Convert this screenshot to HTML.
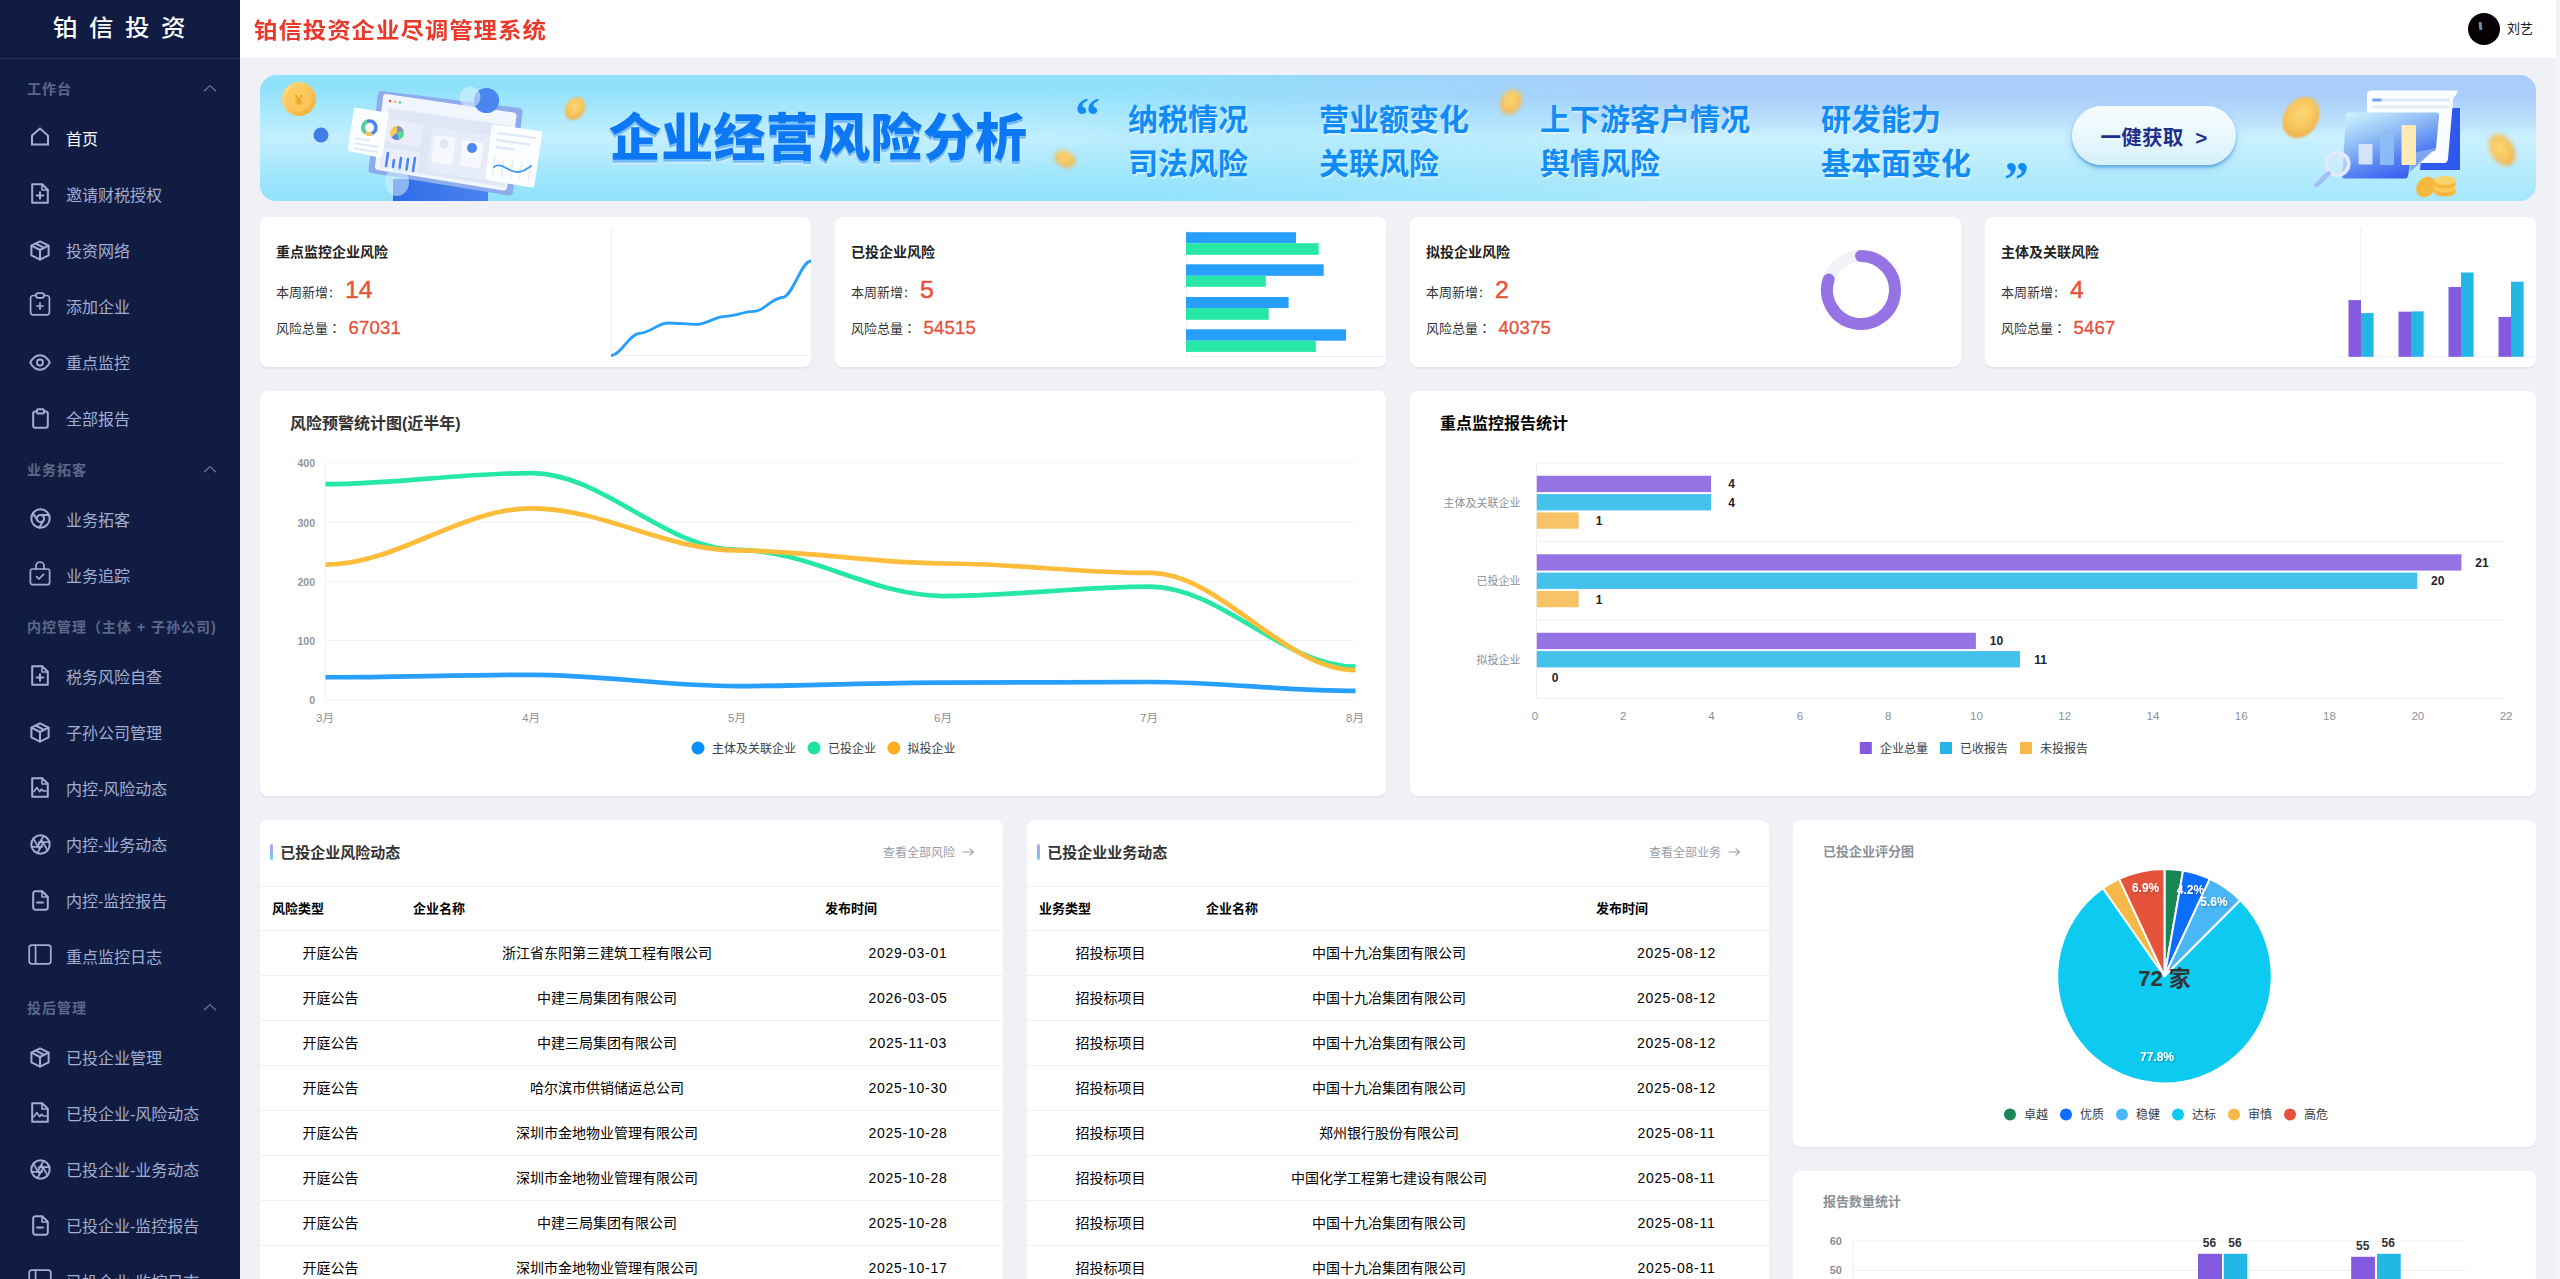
<!DOCTYPE html>
<html lang="zh-CN">
<head>
<meta charset="utf-8">
<title>铂信投资企业尽调管理系统</title>
<style>
*{box-sizing:border-box;margin:0;padding:0}
html,body{width:2560px;height:1279px;overflow:hidden}
body{position:relative;background:#f0f1f7;font-family:"Liberation Sans","Noto Sans CJK SC",sans-serif;-webkit-font-smoothing:antialiased}
.t{position:absolute;white-space:nowrap}
.num{font-family:"Liberation Sans",sans-serif}
.dt{letter-spacing:0.75px}
#sb{position:absolute;left:0;top:0;width:240px;height:1279px;background:#111c43;overflow:hidden}
#tb{position:absolute;left:240px;top:0;width:2316px;height:58px;background:#fff}
#bn{position:absolute;left:260px;top:75px;width:2276px;height:126px;border-radius:16px;overflow:hidden;
 background:
  linear-gradient(90deg,rgba(143,226,251,1) 0%,rgba(143,226,251,.95) 38%,rgba(160,205,251,0) 62%),
  linear-gradient(180deg,#a9cbfb 0%,#abcffb 18%,#bbe1fd 37%,#c9f0ff 48%,#c4effe 60%,#b3ebfd 80%,#a6e8fc 100%);}
#bn:before{content:"";position:absolute;left:0;top:0;width:60%;height:100%;background:linear-gradient(180deg,rgba(200,240,255,0) 10%,rgba(205,241,255,.85) 50%,rgba(180,236,253,.3) 85%,rgba(166,232,252,0) 100%);-webkit-mask-image:linear-gradient(90deg,#000 0%,#000 55%,transparent 100%)}
.card{background:#fff;border-radius:8px;box-shadow:0 2px 0 rgba(10,10,10,.04)}
svg{overflow:visible}
</style>
</head>
<body>
<div id="tb"></div>
<div class="t" style="left:254px;top:14px;font-size:23.5px;line-height:34px;color:#e8392b;font-weight:700;letter-spacing:0.9px;transform:scaleY(.92);">铂信投资企业尽调管理系统</div>
<div style="position:absolute;left:2468px;top:13px;width:32px;height:32px;border-radius:50%;background:#050004"></div>
<div style="position:absolute;left:2479px;top:22px;width:3px;height:8px;border-radius:1px;background:#7386b8;transform:rotate(-6deg)"></div>
<div class="t" style="left:2507px;top:19px;font-size:13px;line-height:20px;color:#222;">刘艺</div>
<div id="bn">
<svg width="2276" height="126" viewBox="0 0 2276 126" style="position:absolute;left:0;top:0">
<defs>
<linearGradient id="gold" x1="0" y1="0" x2="1" y2="1"><stop offset="0" stop-color="#ffe08a"/><stop offset="1" stop-color="#f6a92e"/></linearGradient>
<linearGradient id="glass" x1="0.15" y1="0" x2="0.7" y2="1"><stop offset="0" stop-color="#cbeffd"/><stop offset="0.35" stop-color="#93bff7"/><stop offset="0.7" stop-color="#5682f2"/><stop offset="1" stop-color="#3359f1"/></linearGradient>
<linearGradient id="stand" x1="0" y1="0" x2="1" y2="0"><stop offset="0" stop-color="#2f6be6"/><stop offset="1" stop-color="#4a84ef"/></linearGradient>
<radialGradient id="coin" cx="45%" cy="42%" r="60%"><stop offset="0" stop-color="#fcd877"/><stop offset="0.6" stop-color="#f8c65d"/><stop offset="1" stop-color="#f0ae4c"/></radialGradient>
<filter id="bl1" x="-30%" y="-30%" width="160%" height="160%"><feGaussianBlur stdDeviation="1.2"/></filter>
<filter id="bl2" x="-30%" y="-30%" width="160%" height="160%"><feGaussianBlur stdDeviation="2"/></filter>
</defs>
<!-- left illustration -->
<circle cx="39" cy="24" r="17" fill="url(#gold)"/><circle cx="39" cy="24" r="12.5" fill="#fbc95c" opacity=".8"/>
<text x="39" y="30" font-size="15" font-weight="700" fill="#f2a324" text-anchor="middle" font-family="Liberation Sans, sans-serif">¥</text>
<circle cx="61" cy="60" r="7.5" fill="#3f7ce6"/>
<rect x="133" y="104" width="95" height="22" fill="url(#stand)"/>
<path d="M122 16 L260 33 Q263 34 262.5 37 L253 118 Q252 121 249 120.5 L111 98 Q108 97 108.5 94 L118 19 Q119 15.5 122 16 Z" fill="#8dacee"/>
<path d="M126 19 L254 37.5 Q257 38.5 256.5 41 L247 113 Q246 116 243 115.5 L118 95 Q114.5 94 115 91 L123 22 Q123.5 18.5 126 19 Z" fill="#f1f5fc"/>
<path d="M129 33 L252 51 L245 112 L120 92 Z" fill="#dfe7f6"/>
<path d="M129 44 L164 49.5 L160 72 L125 66.5 Z" fill="#e9eef9"/><path d="M124 72 L160 78 L157 98 L121 91.5 Z" fill="#e9eef9"/>
<path d="M172 52 L248 63 L242 108 L166 96 Z" fill="#e6ecf8"/>
<path d="M175 60 L196 63 L192 90 L171 86.5 Z" fill="#f6f8fd"/><path d="M203 65 L224 68 L220 94 L199 90.5 Z" fill="#f6f8fd"/>
<circle cx="184" cy="69" r="4.5" fill="#e1e7f5"/><circle cx="212" cy="73" r="5" fill="#4c86ee"/>
<circle cx="137" cy="58" r="7" fill="#f5c75f"/><path d="M137 58 L137 51 A7 7 0 0 1 143.6 55.8 Z" fill="#8d93b8"/><path d="M137 58 L143.6 55.8 A7 7 0 0 1 139 64.7 Z" fill="#57d99c"/><path d="M137 58 L139 64.7 A7 7 0 0 1 131.5 62.3 Z" fill="#4c86ee"/>
<g stroke="#4d86ef" stroke-width="2.6" stroke-linecap="round"><path d="M128 78 L126 91"/><path d="M134 85 L133 92"/><path d="M141 83 L139.5 93.5"/><path d="M148 84 L146.5 94.5"/><path d="M155 83 L153 96"/></g>
<circle cx="130" cy="26" r="1.3" fill="#ef5350"/><circle cx="135" cy="26.7" r="1.3" fill="#f6c244"/><circle cx="140" cy="27.4" r="1.3" fill="#5fd79a"/>
<path d="M96 33 L127 37.5 Q129 38 128.7 40 L122.5 81 Q122 83 120 82.7 L89.5 76 Q87.5 75.5 88 73.5 L93.7 35 Q94 32.7 96 33 Z" fill="#fdfeff"/>
<circle cx="109.5" cy="52.5" r="6.5" fill="none" stroke="#4c86ee" stroke-width="3.6"/><path d="M104.9 57.1 A6.5 6.5 0 0 1 107.3 46.4" fill="none" stroke="#4fd39a" stroke-width="3.6"/><path d="M112 58.5 A6.5 6.5 0 0 1 105.2 57.4" fill="none" stroke="#f5c75f" stroke-width="3.6"/>
<g stroke="#e2e8f5" stroke-width="2" stroke-linecap="round"><path d="M96 63.5 L109 65.5"/><path d="M95 68.5 L118 72"/><path d="M94.5 73.5 L117 77"/></g>
<path d="M234 49.5 L280 56 Q282.5 56.5 282.2 59 L274.5 110 Q274 113 271 112.5 L227.5 105 Q225 104.5 225.4 102 L231.5 52 Q232 49 234 49.5 Z" fill="#fbfdff"/>
<g stroke="#e1e8f6" stroke-width="2.4" stroke-linecap="round"><path d="M238 58 L275 63"/><path d="M237 65 L269 69.5"/><path d="M236.5 72 L254 74.5"/></g>
<g stroke="#e3e9f6" stroke-width="1.2"><path d="M235 82 L232.5 100"/><path d="M244 83 L241.5 102"/><path d="M253 84.5 L250.5 103.5"/><path d="M262 86 L259.5 105"/><path d="M271 87.5 L268.5 106.5"/></g>
<path d="M234 92 C242 86 250 99 259 97 C265 96 268 93 271 91" fill="none" stroke="#3e9bee" stroke-width="1.8" stroke-linecap="round"/>
<circle cx="226.5" cy="25.5" r="12.6" fill="#4a86ef"/>
<circle cx="210" cy="22" r="10.5" fill="#dff2fd" opacity=".55"/>
<ellipse cx="137" cy="107" rx="12" ry="14" fill="#d8eefc" opacity=".55"/>
<ellipse cx="315" cy="33.5" rx="9.5" ry="12" fill="url(#coin)" transform="rotate(32 315 33.5)" filter="url(#bl1)"/>
<ellipse cx="805" cy="84" rx="11" ry="8" fill="url(#coin)" transform="rotate(25 805 84)" filter="url(#bl2)"/>
<ellipse cx="1251" cy="27" rx="10" ry="13" fill="url(#coin)" transform="rotate(30 1251 27)" filter="url(#bl2)"/>
<!-- right illustration -->
<ellipse cx="2041" cy="42.5" rx="17" ry="22" fill="url(#coin)" transform="rotate(33 2041 42.5)" filter="url(#bl1)"/>
<ellipse cx="2242" cy="75" rx="11.5" ry="17" fill="url(#coin)" transform="rotate(-32 2242 75)" filter="url(#bl2)"/>
<path d="M2166 33 L2200 33 L2200 95 L2160 95 Z" fill="#2e58ef"/>
<path d="M2111 15.5 L2198 15.5 L2196 20 Q2193 22 2193 26 L2188 84 Q2187.5 88 2184 88 L2107 88 L2107 20 Q2107 15.5 2111 15.5 Z" fill="#fafcff"/>
<rect x="2112" y="23.5" width="78" height="3" rx="1.5" fill="#dfe8f7"/><rect x="2112" y="23.5" width="10" height="3" rx="1.5" fill="#7ea6ee"/><rect x="2112" y="30.5" width="77" height="3" rx="1.5" fill="#e6edf9"/>
<path d="M2088 37.5 L2176 37.5 Q2179.5 37.5 2179 41 L2176 73 Q2175.5 76 2172 76.5 L2152 78 L2148 101 Q2147.5 103.5 2145 103.5 L2084 103.5 Q2082 103.5 2082.3 101 L2086 40 Q2086.2 37.5 2088 37.5 Z" fill="url(#glass)"/>
<path d="M2152 78 L2176 73 L2150 97 Z" fill="#7fa6f3"/>
<rect x="2098.5" y="69" width="14" height="20.5" rx="1" fill="#dbe9fb" opacity=".92"/>
<rect x="2120" y="58" width="14" height="32" rx="1" fill="#8ec0f6" opacity=".9"/>
<rect x="2141.5" y="50" width="14.5" height="40" rx="1" fill="#fdeab5"/>
<circle cx="2077.5" cy="88.8" r="11.3" fill="#d4ecfd" fill-opacity=".6" stroke="#e4e9fb" stroke-width="3.6"/>
<path d="M2068.5 98.5 L2056.5 110" stroke="#a3c0f4" stroke-width="4.6" stroke-linecap="round"/>
<g fill="#f6b83d"><ellipse cx="2166" cy="112" rx="9" ry="11" transform="rotate(40 2166 112)"/><ellipse cx="2185" cy="117" rx="11" ry="4.5"/><ellipse cx="2185" cy="113" rx="11" ry="4.5" fill="#f9c95a"/><ellipse cx="2185" cy="109" rx="11" ry="4.5"/><ellipse cx="2185" cy="105.5" rx="11" ry="4.5" fill="#fbd36b"/></g>
</svg>
<div class="t" style="left:349px;top:27.8px;font-size:52px;line-height:70px;color:#0d78f4;font-weight:900;transform:scaleY(.985);letter-spacing:0.3px;text-shadow:0 0 1.5px rgba(255,255,255,.85),0 2px 0 #63b7f7,0 3.5px 0 #8fcff9,0 5px 1px rgba(200,236,254,.95);">企业经营风险分析</div>
<div class="t" style="left:815px;top:15px;font-size:50px;line-height:50px;color:#128cf4;font-weight:900;font-family:'Liberation Serif',serif;">“</div>
<div class="t" style="left:1744px;top:78.5px;font-size:50px;line-height:50px;color:#128cf4;font-weight:900;font-family:'Liberation Serif',serif;">”</div>
<div class="t" style="left:868px;top:24.7px;font-size:30px;line-height:40px;color:#128cf4;font-weight:700;text-shadow:1.5px 2px 1px rgba(255,255,255,.45);">纳税情况</div>
<div class="t" style="left:868px;top:68.7px;font-size:30px;line-height:40px;color:#128cf4;font-weight:700;text-shadow:1.5px 2px 1px rgba(255,255,255,.45);">司法风险</div>
<div class="t" style="left:1059px;top:24.7px;font-size:30px;line-height:40px;color:#128cf4;font-weight:700;text-shadow:1.5px 2px 1px rgba(255,255,255,.45);">营业额变化</div>
<div class="t" style="left:1059px;top:68.7px;font-size:30px;line-height:40px;color:#128cf4;font-weight:700;text-shadow:1.5px 2px 1px rgba(255,255,255,.45);">关联风险</div>
<div class="t" style="left:1280px;top:24.7px;font-size:30px;line-height:40px;color:#128cf4;font-weight:700;text-shadow:1.5px 2px 1px rgba(255,255,255,.45);">上下游客户情况</div>
<div class="t" style="left:1280px;top:68.7px;font-size:30px;line-height:40px;color:#128cf4;font-weight:700;text-shadow:1.5px 2px 1px rgba(255,255,255,.45);">舆情风险</div>
<div class="t" style="left:1561px;top:24.7px;font-size:30px;line-height:40px;color:#128cf4;font-weight:700;text-shadow:1.5px 2px 1px rgba(255,255,255,.45);">研发能力</div>
<div class="t" style="left:1561px;top:68.7px;font-size:30px;line-height:40px;color:#128cf4;font-weight:700;text-shadow:1.5px 2px 1px rgba(255,255,255,.45);">基本面变化</div>
<div style="position:absolute;left:1812px;top:31px;width:164px;height:59px;border-radius:30px;background:linear-gradient(180deg,#f6fdff 0%,#e9f8fe 50%,#d6f0fc 100%);box-shadow:0 2.5px 3px rgba(70,150,215,.7),0 4px 8px rgba(80,150,220,.25)"></div>
<div class="t" style="left:1894px;top:48.5px;font-size:20.5px;line-height:28px;color:#1e2f8c;font-weight:700;transform:translateX(-50%);letter-spacing:0.2px;">一健获取&nbsp; &gt;</div>
</div>
<div class="card" style="position:absolute;left:260px;top:217px;width:551px;height:150px;"></div>
<div class="t" style="left:276px;top:242px;font-size:14px;line-height:20px;color:#222;font-weight:700;">重点监控企业风险</div>
<div class="t" style="left:276px;top:283px;font-size:13px;line-height:20px;color:#333;">本周新增<span style="margin-left:1.3px;-webkit-text-stroke:0.3px #333">:</span></div>
<div class="t num" style="left:345px;top:274.5px;font-size:24.8px;line-height:30px;color:#e6533c;font-weight:500;-webkit-text-stroke:0.5px #e6533c;">14</div>
<div class="t" style="left:276px;top:319px;font-size:13px;line-height:20px;color:#333;">风险总量<span lang="ja" style="line-height:1px;font-family:'Noto Sans CJK JP',sans-serif">：</span></div>
<div class="t num" style="left:348.5px;top:315.5px;font-size:18.5px;line-height:24px;color:#e6533c;font-weight:500;letter-spacing:0.2px;-webkit-text-stroke:0.35px #e6533c;">67031</div>
<div class="card" style="position:absolute;left:835px;top:217px;width:551px;height:150px;"></div>
<div class="t" style="left:851px;top:242px;font-size:14px;line-height:20px;color:#222;font-weight:700;">已投企业风险</div>
<div class="t" style="left:851px;top:283px;font-size:13px;line-height:20px;color:#333;">本周新增<span style="margin-left:1.3px;-webkit-text-stroke:0.3px #333">:</span></div>
<div class="t num" style="left:920px;top:274.5px;font-size:24.8px;line-height:30px;color:#e6533c;font-weight:500;-webkit-text-stroke:0.5px #e6533c;">5</div>
<div class="t" style="left:851px;top:319px;font-size:13px;line-height:20px;color:#333;">风险总量<span lang="ja" style="line-height:1px;font-family:'Noto Sans CJK JP',sans-serif">：</span></div>
<div class="t num" style="left:923.5px;top:315.5px;font-size:18.5px;line-height:24px;color:#e6533c;font-weight:500;letter-spacing:0.2px;-webkit-text-stroke:0.35px #e6533c;">54515</div>
<div class="card" style="position:absolute;left:1410px;top:217px;width:551px;height:150px;"></div>
<div class="t" style="left:1426px;top:242px;font-size:14px;line-height:20px;color:#222;font-weight:700;">拟投企业风险</div>
<div class="t" style="left:1426px;top:283px;font-size:13px;line-height:20px;color:#333;">本周新增<span style="margin-left:1.3px;-webkit-text-stroke:0.3px #333">:</span></div>
<div class="t num" style="left:1495px;top:274.5px;font-size:24.8px;line-height:30px;color:#e6533c;font-weight:500;-webkit-text-stroke:0.5px #e6533c;">2</div>
<div class="t" style="left:1426px;top:319px;font-size:13px;line-height:20px;color:#333;">风险总量<span lang="ja" style="line-height:1px;font-family:'Noto Sans CJK JP',sans-serif">：</span></div>
<div class="t num" style="left:1498.5px;top:315.5px;font-size:18.5px;line-height:24px;color:#e6533c;font-weight:500;letter-spacing:0.2px;-webkit-text-stroke:0.35px #e6533c;">40375</div>
<div class="card" style="position:absolute;left:1985px;top:217px;width:551px;height:150px;"></div>
<div class="t" style="left:2001px;top:242px;font-size:14px;line-height:20px;color:#222;font-weight:700;">主体及关联风险</div>
<div class="t" style="left:2001px;top:283px;font-size:13px;line-height:20px;color:#333;">本周新增<span style="margin-left:1.3px;-webkit-text-stroke:0.3px #333">:</span></div>
<div class="t num" style="left:2070px;top:274.5px;font-size:24.8px;line-height:30px;color:#e6533c;font-weight:500;-webkit-text-stroke:0.5px #e6533c;">4</div>
<div class="t" style="left:2001px;top:319px;font-size:13px;line-height:20px;color:#333;">风险总量<span lang="ja" style="line-height:1px;font-family:'Noto Sans CJK JP',sans-serif">：</span></div>
<div class="t num" style="left:2073.5px;top:315.5px;font-size:18.5px;line-height:24px;color:#e6533c;font-weight:500;letter-spacing:0.2px;-webkit-text-stroke:0.35px #e6533c;">5467</div>
<svg style="position:absolute;left:0;top:0" width="2560" height="400" viewBox="0 0 2560 400"><path d="M611.5 229 V355.5 H811" fill="none" stroke="#f0f1f6" stroke-width="1"/><clipPath id="c1"><rect x="260" y="217" width="551" height="150" rx="8"/></clipPath><path d="M611 355.5 C621 355.5 629.57 333.3 639.57 333.3 C649.57 333.3 658.14 323 668.14 323 C678.14 323 686.71 324.4 696.71 324.4 C706.71 324.4 715.29 316.3 725.29 316.3 C735.29 316.3 743.86 311.4 753.86 311.4 C763.86 311.4 772.43 297.5 782.43 297.5 C792.43 297.5 801 261 811 261" fill="none" stroke="#26a0fc" stroke-width="2.8" stroke-linecap="butt" clip-path="url(#c1)"/><path d="M1186.5 228 V356.5 H1386" fill="none" stroke="#f0f1f6" stroke-width="1"/><rect x="1186" y="232.2" width="110" height="11" fill="#26a0fc"/><rect x="1186" y="243.2" width="132.7" height="11.6" fill="#26e7a6"/><rect x="1186" y="264.3" width="137.7" height="11.5" fill="#26a0fc"/><rect x="1186" y="275.8" width="79.8" height="11" fill="#26e7a6"/><rect x="1186" y="297" width="102.6" height="11" fill="#26a0fc"/><rect x="1186" y="308" width="82.7" height="11.8" fill="#26e7a6"/><rect x="1186" y="329.3" width="160" height="11.4" fill="#26a0fc"/><rect x="1186" y="340.7" width="129.8" height="11.2" fill="#26e7a6"/><circle cx="1861" cy="290" r="34" fill="none" stroke="#f2f3f7" stroke-width="12"/><path d="M1861 256 A34 34 0 1 1 1828.66 279.49" fill="none" stroke="#9673e4" stroke-width="12" stroke-linecap="round"/><path d="M2360.7 228 V356.5" fill="none" stroke="#f0f1f6" stroke-width="1"/><path d="M2336 356.8 H2536" fill="none" stroke="#f0f1f6" stroke-width="1"/><rect x="2348.5" y="300.1" width="12.5" height="56.7" fill="#845adf"/><rect x="2361" y="313.1" width="12.6" height="43.7" fill="#23b7e5"/><rect x="2398.5" y="311.7" width="12.5" height="45.1" fill="#845adf"/><rect x="2411" y="311.4" width="12.6" height="45.4" fill="#23b7e5"/><rect x="2448.5" y="287" width="12.5" height="69.8" fill="#845adf"/><rect x="2461" y="272.5" width="12.6" height="84.3" fill="#23b7e5"/><rect x="2498.5" y="316.9" width="12.5" height="39.9" fill="#845adf"/><rect x="2511" y="281.7" width="12.6" height="75.1" fill="#23b7e5"/></svg>
<div class="card" style="position:absolute;left:260px;top:391px;width:1126px;height:405px;"></div>
<div class="t" style="left:290px;top:412px;font-size:16px;line-height:24px;color:#333;font-weight:700;">风险预警统计图(近半年)</div>
<svg style="position:absolute;left:0;top:0" width="1400" height="800" viewBox="0 0 1400 800"><path d="M325.5 699.75 H1355.5" stroke="#f2f3f5" stroke-width="1.2"/><path d="M325.5 640.5 H1355.5" stroke="#f2f3f5" stroke-width="1.2"/><path d="M325.5 581.25 H1355.5" stroke="#f2f3f5" stroke-width="1.2"/><path d="M325.5 522 H1355.5" stroke="#f2f3f5" stroke-width="1.2"/><path d="M325.5 462.75 H1355.5" stroke="#f2f3f5" stroke-width="1.2"/><path d="M325.5 462.75 V699.75" stroke="#f0f1f5" stroke-width="1"/><clipPath id="lc"><rect x="324.5" y="452.75" width="1032" height="257"/></clipPath><path d="M325.5 677.24 C397.6 677.24 459.4 674.87 531.5 674.87 C603.6 674.87 665.4 686.12 737.5 686.12 C809.6 686.12 871.4 682.57 943.5 682.57 C1015.6 682.57 1077.4 681.98 1149.5 681.98 C1221.6 681.98 1283.4 690.86 1355.5 690.86" fill="none" stroke="#26a0fc" stroke-width="4.7" stroke-linecap="butt" clip-path="url(#lc)"/><path d="M325.5 484.08 C397.6 484.08 459.4 473.12 531.5 473.12 C603.6 473.12 665.4 549.85 737.5 549.85 C809.6 549.85 871.4 596.06 943.5 596.06 C1015.6 596.06 1077.4 586.58 1149.5 586.58 C1221.6 586.58 1283.4 666.57 1355.5 666.57" fill="none" stroke="#26e7a6" stroke-width="4.7" stroke-linecap="butt" clip-path="url(#lc)"/><path d="M325.5 564.66 C397.6 564.66 459.4 508.37 531.5 508.37 C603.6 508.37 665.4 550.44 737.5 550.44 C809.6 550.44 871.4 563.48 943.5 563.48 C1015.6 563.48 1077.4 572.96 1149.5 572.96 C1221.6 572.96 1283.4 670.12 1355.5 670.12" fill="none" stroke="#febc3b" stroke-width="4.7" stroke-linecap="butt" clip-path="url(#lc)"/><circle cx="698" cy="748" r="6.5" fill="#078ffa"/><circle cx="814" cy="748" r="6.5" fill="#1fe3a0"/><circle cx="893.8" cy="748" r="6.5" fill="#feb01f"/></svg>
<div class="t" style="left:315px;top:693.25px;font-size:10.5px;line-height:14px;color:#9196a0;font-weight:700;transform:translateX(-100%);">0</div>
<div class="t" style="left:315px;top:634px;font-size:10.5px;line-height:14px;color:#9196a0;font-weight:700;transform:translateX(-100%);">100</div>
<div class="t" style="left:315px;top:574.75px;font-size:10.5px;line-height:14px;color:#9196a0;font-weight:700;transform:translateX(-100%);">200</div>
<div class="t" style="left:315px;top:515.5px;font-size:10.5px;line-height:14px;color:#9196a0;font-weight:700;transform:translateX(-100%);">300</div>
<div class="t" style="left:315px;top:456.25px;font-size:10.5px;line-height:14px;color:#9196a0;font-weight:700;transform:translateX(-100%);">400</div>
<div class="t" style="left:325px;top:710.3px;font-size:11.5px;line-height:16px;color:#8c9097;transform:translateX(-50%);">3月</div>
<div class="t" style="left:531px;top:710.3px;font-size:11.5px;line-height:16px;color:#8c9097;transform:translateX(-50%);">4月</div>
<div class="t" style="left:737px;top:710.3px;font-size:11.5px;line-height:16px;color:#8c9097;transform:translateX(-50%);">5月</div>
<div class="t" style="left:943px;top:710.3px;font-size:11.5px;line-height:16px;color:#8c9097;transform:translateX(-50%);">6月</div>
<div class="t" style="left:1149px;top:710.3px;font-size:11.5px;line-height:16px;color:#8c9097;transform:translateX(-50%);">7月</div>
<div class="t" style="left:1355px;top:710.3px;font-size:11.5px;line-height:16px;color:#8c9097;transform:translateX(-50%);">8月</div>
<div class="t" style="left:712px;top:740.5px;font-size:12px;line-height:16px;color:#373d3f;">主体及关联企业</div>
<div class="t" style="left:828px;top:740.5px;font-size:12px;line-height:16px;color:#373d3f;">已投企业</div>
<div class="t" style="left:907.5px;top:740.5px;font-size:12px;line-height:16px;color:#373d3f;">拟投企业</div>
<div class="card" style="position:absolute;left:1410px;top:391px;width:1126px;height:405px;"></div>
<div class="t" style="left:1440px;top:412px;font-size:16px;line-height:24px;color:#000;font-weight:700;">重点监控报告统计</div>
<svg style="position:absolute;left:0;top:0" width="2560" height="800" viewBox="0 0 2560 800"><path d="M1536 463 H2506" stroke="#f1f2f5" stroke-width="1.2"/><path d="M1536 541.5 H2506" stroke="#f1f2f5" stroke-width="1.2"/><path d="M1536 620 H2506" stroke="#f1f2f5" stroke-width="1.2"/><path d="M1536 698.5 H2506" stroke="#f1f2f5" stroke-width="1.2"/><path d="M1536.5 463 V698.5" stroke="#eceef3" stroke-width="1"/><rect x="1536.8" y="475.77" width="174.26" height="16.32" fill="#9673e4"/><rect x="1536.8" y="494.09" width="174.26" height="16.32" fill="#44c2e9"/><rect x="1536.8" y="512.41" width="41.84" height="16.32" fill="#f7c364"/><rect x="1536.8" y="554.27" width="924.64" height="16.32" fill="#9673e4"/><rect x="1536.8" y="572.59" width="880.5" height="16.32" fill="#44c2e9"/><rect x="1536.8" y="590.91" width="41.84" height="16.32" fill="#f7c364"/><rect x="1536.8" y="632.77" width="439.1" height="16.32" fill="#9673e4"/><rect x="1536.8" y="651.09" width="483.24" height="16.32" fill="#44c2e9"/><rect x="1859.8" y="742" width="12" height="12" fill="#845adf"/><rect x="1940" y="742" width="12" height="12" fill="#23b7e5"/><rect x="2020" y="742" width="12" height="12" fill="#f5b849"/></svg>
<div class="t" style="left:1731.56px;top:476.43px;font-size:12px;line-height:16px;color:#1f2130;font-weight:700;transform:translateX(-50%);">4</div>
<div class="t" style="left:1731.56px;top:494.75px;font-size:12px;line-height:16px;color:#1f2130;font-weight:700;transform:translateX(-50%);">4</div>
<div class="t" style="left:1599.14px;top:513.07px;font-size:12px;line-height:16px;color:#1f2130;font-weight:700;transform:translateX(-50%);">1</div>
<div class="t" style="left:2481.94px;top:554.93px;font-size:12px;line-height:16px;color:#1f2130;font-weight:700;transform:translateX(-50%);">21</div>
<div class="t" style="left:2437.8px;top:573.25px;font-size:12px;line-height:16px;color:#1f2130;font-weight:700;transform:translateX(-50%);">20</div>
<div class="t" style="left:1599.14px;top:591.57px;font-size:12px;line-height:16px;color:#1f2130;font-weight:700;transform:translateX(-50%);">1</div>
<div class="t" style="left:1996.4px;top:633.43px;font-size:12px;line-height:16px;color:#1f2130;font-weight:700;transform:translateX(-50%);">10</div>
<div class="t" style="left:2040.54px;top:651.75px;font-size:12px;line-height:16px;color:#1f2130;font-weight:700;transform:translateX(-50%);">11</div>
<div class="t" style="left:1555px;top:670.07px;font-size:12px;line-height:16px;color:#1f2130;font-weight:700;transform:translateX(-50%);">0</div>
<div class="t" style="left:1520.5px;top:494.75px;font-size:11px;line-height:16px;color:#8c9097;transform:translateX(-100%);">主体及关联企业</div>
<div class="t" style="left:1520.5px;top:573.25px;font-size:11px;line-height:16px;color:#8c9097;transform:translateX(-100%);">已投企业</div>
<div class="t" style="left:1520.5px;top:651.75px;font-size:11px;line-height:16px;color:#8c9097;transform:translateX(-100%);">拟投企业</div>
<div class="t" style="left:1535px;top:708.3px;font-size:11.5px;line-height:16px;color:#8c9097;transform:translateX(-50%);">0</div>
<div class="t" style="left:1623.28px;top:708.3px;font-size:11.5px;line-height:16px;color:#8c9097;transform:translateX(-50%);">2</div>
<div class="t" style="left:1711.56px;top:708.3px;font-size:11.5px;line-height:16px;color:#8c9097;transform:translateX(-50%);">4</div>
<div class="t" style="left:1799.8400000000001px;top:708.3px;font-size:11.5px;line-height:16px;color:#8c9097;transform:translateX(-50%);">6</div>
<div class="t" style="left:1888.12px;top:708.3px;font-size:11.5px;line-height:16px;color:#8c9097;transform:translateX(-50%);">8</div>
<div class="t" style="left:1976.4px;top:708.3px;font-size:11.5px;line-height:16px;color:#8c9097;transform:translateX(-50%);">10</div>
<div class="t" style="left:2064.6800000000003px;top:708.3px;font-size:11.5px;line-height:16px;color:#8c9097;transform:translateX(-50%);">12</div>
<div class="t" style="left:2152.96px;top:708.3px;font-size:11.5px;line-height:16px;color:#8c9097;transform:translateX(-50%);">14</div>
<div class="t" style="left:2241.24px;top:708.3px;font-size:11.5px;line-height:16px;color:#8c9097;transform:translateX(-50%);">16</div>
<div class="t" style="left:2329.52px;top:708.3px;font-size:11.5px;line-height:16px;color:#8c9097;transform:translateX(-50%);">18</div>
<div class="t" style="left:2417.8px;top:708.3px;font-size:11.5px;line-height:16px;color:#8c9097;transform:translateX(-50%);">20</div>
<div class="t" style="left:2506.08px;top:708.3px;font-size:11.5px;line-height:16px;color:#8c9097;transform:translateX(-50%);">22</div>
<div class="t" style="left:1880px;top:740.5px;font-size:12px;line-height:16px;color:#373d3f;">企业总量</div>
<div class="t" style="left:1960px;top:740.5px;font-size:12px;line-height:16px;color:#373d3f;">已收报告</div>
<div class="t" style="left:2040px;top:740.5px;font-size:12px;line-height:16px;color:#373d3f;">未投报告</div>
<div class="card" style="position:absolute;left:260px;top:820px;width:743px;height:480px;"></div>
<div style="position:absolute;left:270px;top:844px;width:3px;height:16px;border-radius:2px;background:linear-gradient(180deg,#c79ae8 0%,#8fb4f5 55%,#74d6f5 100%)"></div>
<div class="t" style="left:280.3px;top:841.5px;font-size:15px;line-height:22px;color:#333;font-weight:700;">已投企业风险动态</div>
<div class="t" style="left:955px;top:843.5px;font-size:12px;line-height:18px;color:#9a9ea6;transform:translateX(-100%);">查看全部风险</div>
<svg style="position:absolute;left:962px;top:847px" width="13" height="10" viewBox="0 0 13 10" fill="none" stroke="#9a9ea6" stroke-width="1.1" stroke-linecap="round" stroke-linejoin="round"><path d="M1 5 H11.5 M8 1.8 L11.5 5 L8 8.2"/></svg>
<div style="position:absolute;left:260px;top:886px;width:743px;height:1px;background:#f1f2f4"></div>
<div style="position:absolute;left:260px;top:930px;width:743px;height:1px;background:#f1f2f4"></div>
<div style="position:absolute;left:260px;top:975px;width:743px;height:1px;background:#f1f2f4"></div>
<div style="position:absolute;left:260px;top:1020px;width:743px;height:1px;background:#f1f2f4"></div>
<div style="position:absolute;left:260px;top:1065px;width:743px;height:1px;background:#f1f2f4"></div>
<div style="position:absolute;left:260px;top:1110px;width:743px;height:1px;background:#f1f2f4"></div>
<div style="position:absolute;left:260px;top:1155px;width:743px;height:1px;background:#f1f2f4"></div>
<div style="position:absolute;left:260px;top:1200px;width:743px;height:1px;background:#f1f2f4"></div>
<div style="position:absolute;left:260px;top:1245px;width:743px;height:1px;background:#f1f2f4"></div>
<div class="t" style="left:272px;top:898.5px;font-size:13px;line-height:20px;color:#000;font-weight:700;">风险类型</div>
<div class="t" style="left:413px;top:898.5px;font-size:13px;line-height:20px;color:#000;font-weight:700;">企业名称</div>
<div class="t" style="left:825px;top:898.5px;font-size:13px;line-height:20px;color:#000;font-weight:700;">发布时间</div>
<div class="t" style="left:330.5px;top:943px;font-size:14px;line-height:20px;color:#000;transform:translateX(-50%);">开庭公告</div>
<div class="t" style="left:607px;top:943px;font-size:14px;line-height:20px;color:#000;transform:translateX(-50%);">浙江省东阳第三建筑工程有限公司</div>
<div class="t dt" style="left:908px;top:943px;font-size:14px;line-height:20px;color:#000;transform:translateX(-50%);">2029-03-01</div>
<div class="t" style="left:330.5px;top:988px;font-size:14px;line-height:20px;color:#000;transform:translateX(-50%);">开庭公告</div>
<div class="t" style="left:607px;top:988px;font-size:14px;line-height:20px;color:#000;transform:translateX(-50%);">中建三局集团有限公司</div>
<div class="t dt" style="left:908px;top:988px;font-size:14px;line-height:20px;color:#000;transform:translateX(-50%);">2026-03-05</div>
<div class="t" style="left:330.5px;top:1033px;font-size:14px;line-height:20px;color:#000;transform:translateX(-50%);">开庭公告</div>
<div class="t" style="left:607px;top:1033px;font-size:14px;line-height:20px;color:#000;transform:translateX(-50%);">中建三局集团有限公司</div>
<div class="t dt" style="left:908px;top:1033px;font-size:14px;line-height:20px;color:#000;transform:translateX(-50%);">2025-11-03</div>
<div class="t" style="left:330.5px;top:1078px;font-size:14px;line-height:20px;color:#000;transform:translateX(-50%);">开庭公告</div>
<div class="t" style="left:607px;top:1078px;font-size:14px;line-height:20px;color:#000;transform:translateX(-50%);">哈尔滨市供销储运总公司</div>
<div class="t dt" style="left:908px;top:1078px;font-size:14px;line-height:20px;color:#000;transform:translateX(-50%);">2025-10-30</div>
<div class="t" style="left:330.5px;top:1123px;font-size:14px;line-height:20px;color:#000;transform:translateX(-50%);">开庭公告</div>
<div class="t" style="left:607px;top:1123px;font-size:14px;line-height:20px;color:#000;transform:translateX(-50%);">深圳市金地物业管理有限公司</div>
<div class="t dt" style="left:908px;top:1123px;font-size:14px;line-height:20px;color:#000;transform:translateX(-50%);">2025-10-28</div>
<div class="t" style="left:330.5px;top:1168px;font-size:14px;line-height:20px;color:#000;transform:translateX(-50%);">开庭公告</div>
<div class="t" style="left:607px;top:1168px;font-size:14px;line-height:20px;color:#000;transform:translateX(-50%);">深圳市金地物业管理有限公司</div>
<div class="t dt" style="left:908px;top:1168px;font-size:14px;line-height:20px;color:#000;transform:translateX(-50%);">2025-10-28</div>
<div class="t" style="left:330.5px;top:1213px;font-size:14px;line-height:20px;color:#000;transform:translateX(-50%);">开庭公告</div>
<div class="t" style="left:607px;top:1213px;font-size:14px;line-height:20px;color:#000;transform:translateX(-50%);">中建三局集团有限公司</div>
<div class="t dt" style="left:908px;top:1213px;font-size:14px;line-height:20px;color:#000;transform:translateX(-50%);">2025-10-28</div>
<div class="t" style="left:330.5px;top:1258px;font-size:14px;line-height:20px;color:#000;transform:translateX(-50%);">开庭公告</div>
<div class="t" style="left:607px;top:1258px;font-size:14px;line-height:20px;color:#000;transform:translateX(-50%);">深圳市金地物业管理有限公司</div>
<div class="t dt" style="left:908px;top:1258px;font-size:14px;line-height:20px;color:#000;transform:translateX(-50%);">2025-10-17</div>
<div class="card" style="position:absolute;left:1027px;top:820px;width:742px;height:480px;"></div>
<div style="position:absolute;left:1037px;top:844px;width:3px;height:16px;border-radius:2px;background:linear-gradient(180deg,#c79ae8 0%,#8fb4f5 55%,#74d6f5 100%)"></div>
<div class="t" style="left:1047.3px;top:841.5px;font-size:15px;line-height:22px;color:#333;font-weight:700;">已投企业业务动态</div>
<div class="t" style="left:1721px;top:843.5px;font-size:12px;line-height:18px;color:#9a9ea6;transform:translateX(-100%);">查看全部业务</div>
<svg style="position:absolute;left:1728px;top:847px" width="13" height="10" viewBox="0 0 13 10" fill="none" stroke="#9a9ea6" stroke-width="1.1" stroke-linecap="round" stroke-linejoin="round"><path d="M1 5 H11.5 M8 1.8 L11.5 5 L8 8.2"/></svg>
<div style="position:absolute;left:1027px;top:886px;width:742px;height:1px;background:#f1f2f4"></div>
<div style="position:absolute;left:1027px;top:930px;width:742px;height:1px;background:#f1f2f4"></div>
<div style="position:absolute;left:1027px;top:975px;width:742px;height:1px;background:#f1f2f4"></div>
<div style="position:absolute;left:1027px;top:1020px;width:742px;height:1px;background:#f1f2f4"></div>
<div style="position:absolute;left:1027px;top:1065px;width:742px;height:1px;background:#f1f2f4"></div>
<div style="position:absolute;left:1027px;top:1110px;width:742px;height:1px;background:#f1f2f4"></div>
<div style="position:absolute;left:1027px;top:1155px;width:742px;height:1px;background:#f1f2f4"></div>
<div style="position:absolute;left:1027px;top:1200px;width:742px;height:1px;background:#f1f2f4"></div>
<div style="position:absolute;left:1027px;top:1245px;width:742px;height:1px;background:#f1f2f4"></div>
<div class="t" style="left:1039px;top:898.5px;font-size:13px;line-height:20px;color:#000;font-weight:700;">业务类型</div>
<div class="t" style="left:1206px;top:898.5px;font-size:13px;line-height:20px;color:#000;font-weight:700;">企业名称</div>
<div class="t" style="left:1596px;top:898.5px;font-size:13px;line-height:20px;color:#000;font-weight:700;">发布时间</div>
<div class="t" style="left:1110.5px;top:943px;font-size:14px;line-height:20px;color:#000;transform:translateX(-50%);">招投标项目</div>
<div class="t" style="left:1389px;top:943px;font-size:14px;line-height:20px;color:#000;transform:translateX(-50%);">中国十九冶集团有限公司</div>
<div class="t dt" style="left:1676.5px;top:943px;font-size:14px;line-height:20px;color:#000;transform:translateX(-50%);">2025-08-12</div>
<div class="t" style="left:1110.5px;top:988px;font-size:14px;line-height:20px;color:#000;transform:translateX(-50%);">招投标项目</div>
<div class="t" style="left:1389px;top:988px;font-size:14px;line-height:20px;color:#000;transform:translateX(-50%);">中国十九冶集团有限公司</div>
<div class="t dt" style="left:1676.5px;top:988px;font-size:14px;line-height:20px;color:#000;transform:translateX(-50%);">2025-08-12</div>
<div class="t" style="left:1110.5px;top:1033px;font-size:14px;line-height:20px;color:#000;transform:translateX(-50%);">招投标项目</div>
<div class="t" style="left:1389px;top:1033px;font-size:14px;line-height:20px;color:#000;transform:translateX(-50%);">中国十九冶集团有限公司</div>
<div class="t dt" style="left:1676.5px;top:1033px;font-size:14px;line-height:20px;color:#000;transform:translateX(-50%);">2025-08-12</div>
<div class="t" style="left:1110.5px;top:1078px;font-size:14px;line-height:20px;color:#000;transform:translateX(-50%);">招投标项目</div>
<div class="t" style="left:1389px;top:1078px;font-size:14px;line-height:20px;color:#000;transform:translateX(-50%);">中国十九冶集团有限公司</div>
<div class="t dt" style="left:1676.5px;top:1078px;font-size:14px;line-height:20px;color:#000;transform:translateX(-50%);">2025-08-12</div>
<div class="t" style="left:1110.5px;top:1123px;font-size:14px;line-height:20px;color:#000;transform:translateX(-50%);">招投标项目</div>
<div class="t" style="left:1389px;top:1123px;font-size:14px;line-height:20px;color:#000;transform:translateX(-50%);">郑州银行股份有限公司</div>
<div class="t dt" style="left:1676.5px;top:1123px;font-size:14px;line-height:20px;color:#000;transform:translateX(-50%);">2025-08-11</div>
<div class="t" style="left:1110.5px;top:1168px;font-size:14px;line-height:20px;color:#000;transform:translateX(-50%);">招投标项目</div>
<div class="t" style="left:1389px;top:1168px;font-size:14px;line-height:20px;color:#000;transform:translateX(-50%);">中国化学工程第七建设有限公司</div>
<div class="t dt" style="left:1676.5px;top:1168px;font-size:14px;line-height:20px;color:#000;transform:translateX(-50%);">2025-08-11</div>
<div class="t" style="left:1110.5px;top:1213px;font-size:14px;line-height:20px;color:#000;transform:translateX(-50%);">招投标项目</div>
<div class="t" style="left:1389px;top:1213px;font-size:14px;line-height:20px;color:#000;transform:translateX(-50%);">中国十九冶集团有限公司</div>
<div class="t dt" style="left:1676.5px;top:1213px;font-size:14px;line-height:20px;color:#000;transform:translateX(-50%);">2025-08-11</div>
<div class="t" style="left:1110.5px;top:1258px;font-size:14px;line-height:20px;color:#000;transform:translateX(-50%);">招投标项目</div>
<div class="t" style="left:1389px;top:1258px;font-size:14px;line-height:20px;color:#000;transform:translateX(-50%);">中国十九冶集团有限公司</div>
<div class="t dt" style="left:1676.5px;top:1258px;font-size:14px;line-height:20px;color:#000;transform:translateX(-50%);">2025-08-11</div>
<div class="card" style="position:absolute;left:1793px;top:820px;width:743px;height:327px;"></div>
<div class="t" style="left:1823px;top:841.5px;font-size:13px;line-height:20px;color:#8c9097;font-weight:700;">已投企业评分图</div>
<svg style="position:absolute;left:0;top:0" width="2560" height="1279" viewBox="0 0 2560 1279"><defs><filter id="ds" x="-20%" y="-20%" width="140%" height="150%"><feDropShadow dx="1" dy="1" stdDeviation="0.9" flood-color="#000" flood-opacity=".3"/></filter></defs><path d="M2164.5 976.2 L2164.5 868.9 A107.3 107.3 0 0 1 2183.13 870.53 Z" fill="#198754" stroke="#fff" stroke-width="2" stroke-linejoin="round"/><path d="M2164.5 976.2 L2183.13 870.53 A107.3 107.3 0 0 1 2209.85 878.95 Z" fill="#0d6efd" stroke="#fff" stroke-width="2" stroke-linejoin="round"/><path d="M2164.5 976.2 L2209.85 878.95 A107.3 107.3 0 0 1 2240.37 900.33 Z" fill="#49b6f5" stroke="#fff" stroke-width="2" stroke-linejoin="round"/><path d="M2164.5 976.2 L2240.37 900.33 A107.3 107.3 0 1 1 2102.96 888.3 Z" fill="#0dcaf0" stroke="#fff" stroke-width="2" stroke-linejoin="round"/><path d="M2164.5 976.2 L2102.96 888.3 A107.3 107.3 0 0 1 2119.15 878.95 Z" fill="#f5b849" stroke="#fff" stroke-width="2" stroke-linejoin="round"/><path d="M2164.5 976.2 L2119.15 878.95 A107.3 107.3 0 0 1 2164.5 868.9 Z" fill="#e6533c" stroke="#fff" stroke-width="2" stroke-linejoin="round"/><circle cx="2010" cy="1114.5" r="6" fill="#198754"/><circle cx="2066" cy="1114.5" r="6" fill="#0d6efd"/><circle cx="2122" cy="1114.5" r="6" fill="#49b6f5"/><circle cx="2178" cy="1114.5" r="6" fill="#0dcaf0"/><circle cx="2234" cy="1114.5" r="6" fill="#f5b849"/><circle cx="2290" cy="1114.5" r="6" fill="#e6533c"/><text x="2145.6" y="892.3" text-anchor="middle" font-family="Liberation Sans, sans-serif" font-weight="700" font-size="12" fill="#fff" filter="url(#ds)">6.9%</text><text x="2190.5" y="893.8" text-anchor="middle" font-family="Liberation Sans, sans-serif" font-weight="700" font-size="12" fill="#fff" filter="url(#ds)">4.2%</text><text x="2214" y="905.8" text-anchor="middle" font-family="Liberation Sans, sans-serif" font-weight="700" font-size="12" fill="#fff" filter="url(#ds)">5.6%</text><text x="2157" y="1061.3" text-anchor="middle" font-family="Liberation Sans, sans-serif" font-weight="700" font-size="12" fill="#fff" filter="url(#ds)">77.8%</text></svg>
<div class="t" style="left:2164.5px;top:963.8px;font-size:22px;line-height:30px;color:#333;font-weight:700;transform:translateX(-50%);">72 家</div>
<div class="t" style="left:2024px;top:1107px;font-size:12px;line-height:16px;color:#373d3f;">卓越</div>
<div class="t" style="left:2080px;top:1107px;font-size:12px;line-height:16px;color:#373d3f;">优质</div>
<div class="t" style="left:2136px;top:1107px;font-size:12px;line-height:16px;color:#373d3f;">稳健</div>
<div class="t" style="left:2192px;top:1107px;font-size:12px;line-height:16px;color:#373d3f;">达标</div>
<div class="t" style="left:2248px;top:1107px;font-size:12px;line-height:16px;color:#373d3f;">审慎</div>
<div class="t" style="left:2304px;top:1107px;font-size:12px;line-height:16px;color:#373d3f;">高危</div>
<div class="card" style="position:absolute;left:1793px;top:1171px;width:743px;height:200px;"></div>
<div class="t" style="left:1823px;top:1192px;font-size:13px;line-height:20px;color:#8c9097;font-weight:700;">报告数量统计</div>
<svg style="position:absolute;left:0;top:0" width="2560" height="1279" viewBox="0 0 2560 1279"><path d="M1852.5 1241 H2466.5 M1852.5 1270.3 H2466.5" stroke="#f1f2f5" stroke-width="1.2"/><path d="M1853 1241 V1279" stroke="#eceef3" stroke-width="1"/><rect x="2198" y="1253.8" width="24" height="30" fill="#845adf"/><rect x="2223.8" y="1253.8" width="23.5" height="30" fill="#23b7e5"/><rect x="2351.2" y="1256.8" width="23.7" height="30" fill="#845adf"/><rect x="2377" y="1253.8" width="23.7" height="30" fill="#23b7e5"/></svg>
<div class="t" style="left:1842px;top:1232.5px;font-size:11px;line-height:16px;color:#8c9097;font-weight:700;transform:translateX(-100%);">60</div>
<div class="t" style="left:1842px;top:1261.5px;font-size:11px;line-height:16px;color:#8c9097;font-weight:700;transform:translateX(-100%);">50</div>
<div class="t" style="left:2209.5px;top:1235px;font-size:12px;line-height:16px;color:#333;font-weight:700;transform:translateX(-50%);">56</div>
<div class="t" style="left:2235px;top:1235px;font-size:12px;line-height:16px;color:#333;font-weight:700;transform:translateX(-50%);">56</div>
<div class="t" style="left:2362.7px;top:1238.3px;font-size:12px;line-height:16px;color:#333;font-weight:700;transform:translateX(-50%);">55</div>
<div class="t" style="left:2388.3px;top:1235px;font-size:12px;line-height:16px;color:#333;font-weight:700;transform:translateX(-50%);">56</div>
<div id="sb">
<div class="t" style="left:120px;top:11px;font-size:24.5px;line-height:36px;color:#fff;font-weight:500;transform:translateX(-50%);letter-spacing:11.5px;margin-left:5px;transform:translateX(-50%) scaleY(.93);">铂信投资</div>
<div style="position:absolute;left:0;top:58px;width:240px;height:1px;background:#27315a"></div>
<div class="t" style="left:27px;top:79px;font-size:14px;line-height:20px;color:#5d6789;font-weight:700;letter-spacing:1px;">工作台</div>
<svg style="position:absolute;left:203px;top:83px" width="14" height="10" viewBox="0 0 14 10" fill="none" stroke="#6a7499" stroke-width="1.3" stroke-linecap="round" stroke-linejoin="round"><path d="M1.5 7.8 L7 2.6 L12.5 7.8"/></svg>
<div class="t" style="left:66px;top:127.5px;font-size:16px;line-height:24px;color:#ffffff;">首页</div>
<div style="position:absolute;left:30px;top:127px;width:20px;height:19px"><svg width="20" height="19" viewBox="0 0 20 19" fill="none" stroke="#a3aed1" stroke-width="2" stroke-linecap="round" stroke-linejoin="round"><path d="M2 8.6 L10 1.6 L18 8.6 V17.6 H2 Z" stroke-linejoin="miter"/></svg></div>
<div class="t" style="left:66px;top:183.5px;font-size:16px;line-height:24px;color:#a3aed1;">邀请财税授权</div>
<div style="position:absolute;left:31px;top:182.5px;width:18px;height:21px"><svg width="18" height="21" viewBox="0 0 18 21" fill="none" stroke="#a3aed1" stroke-width="2" stroke-linecap="round" stroke-linejoin="round"><path d="M1.2 1.2 H11.2 L16.8 6.8 V19.8 H1.2 Z"/><path d="M11 1.4 V7 H16.6" stroke-width="1.6"/><path d="M9 9.2 V15.8 M5.7 12.5 H12.3"/></svg></div>
<div class="t" style="left:66px;top:239.5px;font-size:16px;line-height:24px;color:#a3aed1;">投资网络</div>
<div style="position:absolute;left:30px;top:239.5px;width:20px;height:21px"><svg width="20" height="21" viewBox="0 0 20 21" fill="none" stroke="#a3aed1" stroke-width="2" stroke-linecap="round" stroke-linejoin="round"><path d="M10 1.3 L18.6 5.6 V15.4 L10 19.7 L1.4 15.4 V5.6 Z"/><path d="M1.6 5.7 L10 10 L18.4 5.7 M10 10 V19.5 M5.6 3.5 L14.2 7.9"/></svg></div>
<div class="t" style="left:66px;top:295.5px;font-size:16px;line-height:24px;color:#a3aed1;">添加企业</div>
<div style="position:absolute;left:29px;top:292px;width:22px;height:24px"><svg width="22" height="24" viewBox="0 0 22 24" fill="none" stroke="#a3aed1" stroke-width="1.7" stroke-linecap="round" stroke-linejoin="round"><path d="M7 3.5 H4.2 A2.6 2.6 0 0 0 1.6 6.1 V20.2 A2.6 2.6 0 0 0 4.2 22.8 H17.8 A2.6 2.6 0 0 0 20.4 20.2 V6.1 A2.6 2.6 0 0 0 17.8 3.5 H15"/><rect x="7" y="1.2" width="8" height="4.6" rx="2"/><path d="M11 10.8 V17.2 M7.8 14 H14.2"/></svg></div>
<div class="t" style="left:66px;top:351.5px;font-size:16px;line-height:24px;color:#a3aed1;">重点监控</div>
<div style="position:absolute;left:29px;top:353.5px;width:22px;height:17px"><svg width="22" height="17" viewBox="0 0 22 17" fill="none" stroke="#a3aed1" stroke-width="1.9" stroke-linecap="round" stroke-linejoin="round"><path d="M1.2 8.5 C4 3.2 7.2 1.2 11 1.2 C14.8 1.2 18 3.2 20.8 8.5 C18 13.8 14.8 15.8 11 15.8 C7.2 15.8 4 13.8 1.2 8.5 Z"/><circle cx="11" cy="8.5" r="3"/></svg></div>
<div class="t" style="left:66px;top:407.5px;font-size:16px;line-height:24px;color:#a3aed1;">全部报告</div>
<div style="position:absolute;left:31.5px;top:408px;width:17px;height:21px"><svg width="17" height="21" viewBox="0 0 17 21" fill="none" stroke="#a3aed1" stroke-width="2" stroke-linecap="round" stroke-linejoin="round"><path d="M5 3.4 H3.2 A2 2 0 0 0 1.2 5.4 V17.8 A2 2 0 0 0 3.2 19.8 H13.8 A2 2 0 0 0 15.8 17.8 V5.4 A2 2 0 0 0 13.8 3.4 H12"/><rect x="5" y="1.2" width="7" height="4.2" rx="1.2"/></svg></div>
<div class="t" style="left:27px;top:459.5px;font-size:14px;line-height:20px;color:#5d6789;font-weight:700;letter-spacing:1px;">业务拓客</div>
<svg style="position:absolute;left:203px;top:463.5px" width="14" height="10" viewBox="0 0 14 10" fill="none" stroke="#6a7499" stroke-width="1.3" stroke-linecap="round" stroke-linejoin="round"><path d="M1.5 7.8 L7 2.6 L12.5 7.8"/></svg>
<div class="t" style="left:66px;top:508.5px;font-size:16px;line-height:24px;color:#a3aed1;">业务拓客</div>
<div style="position:absolute;left:29.5px;top:507.5px;width:21px;height:21px"><svg width="21" height="21" viewBox="0 0 21 21" fill="none" stroke="#a3aed1" stroke-width="2" stroke-linecap="round" stroke-linejoin="round"><circle cx="10.5" cy="10.5" r="9.2"/><circle cx="10.5" cy="10.5" r="3.6"/><path d="M10.5 6.9 H19 M7.4 12.3 L3 5.2 M13.6 12.3 L9.4 19.6"/></svg></div>
<div class="t" style="left:66px;top:564.5px;font-size:16px;line-height:24px;color:#a3aed1;">业务追踪</div>
<div style="position:absolute;left:29px;top:560.5px;width:22px;height:25px"><svg width="22" height="25" viewBox="0 0 22 25" fill="none" stroke="#a3aed1" stroke-width="1.7" stroke-linecap="round" stroke-linejoin="round"><path d="M3.4 8 H18.6 A2 2 0 0 1 20.6 10 V21.6 A2 2 0 0 1 18.6 23.6 H3.4 A2 2 0 0 1 1.4 21.6 V10 A2 2 0 0 1 3.4 8 Z"/><path d="M7 8 V5 A4 4 0 0 1 15 5 V8"/><path d="M7.6 15.6 L10 18 L14.6 13.4"/></svg></div>
<div class="t" style="left:27px;top:616.5px;font-size:14px;line-height:20px;color:#5d6789;font-weight:700;letter-spacing:1px;">内控管理（主体 + 子孙公司)</div>
<div class="t" style="left:66px;top:665.5px;font-size:16px;line-height:24px;color:#a3aed1;">税务风险自查</div>
<div style="position:absolute;left:31px;top:664.5px;width:18px;height:21px"><svg width="18" height="21" viewBox="0 0 18 21" fill="none" stroke="#a3aed1" stroke-width="2" stroke-linecap="round" stroke-linejoin="round"><path d="M1.2 1.2 H11.2 L16.8 6.8 V19.8 H1.2 Z"/><path d="M11 1.4 V7 H16.6" stroke-width="1.6"/><path d="M9 9.2 V15.8 M5.7 12.5 H12.3"/></svg></div>
<div class="t" style="left:66px;top:721.5px;font-size:16px;line-height:24px;color:#a3aed1;">子孙公司管理</div>
<div style="position:absolute;left:30px;top:721.5px;width:20px;height:21px"><svg width="20" height="21" viewBox="0 0 20 21" fill="none" stroke="#a3aed1" stroke-width="2" stroke-linecap="round" stroke-linejoin="round"><path d="M10 1.3 L18.6 5.6 V15.4 L10 19.7 L1.4 15.4 V5.6 Z"/><path d="M1.6 5.7 L10 10 L18.4 5.7 M10 10 V19.5 M5.6 3.5 L14.2 7.9"/></svg></div>
<div class="t" style="left:66px;top:777.5px;font-size:16px;line-height:24px;color:#a3aed1;">内控-风险动态</div>
<div style="position:absolute;left:31px;top:776.5px;width:18px;height:21px"><svg width="18" height="21" viewBox="0 0 18 21" fill="none" stroke="#a3aed1" stroke-width="2" stroke-linecap="round" stroke-linejoin="round"><path d="M1.2 1.2 H11.2 L16.8 6.8 V19.8 H1.2 Z"/><path d="M11 1.4 V7 H16.6" stroke-width="1.6"/><path d="M3 14.6 L6 10.6 L8.6 14.6 L10.6 12.2 L12.2 14 H15" stroke-width="1.7"/></svg></div>
<div class="t" style="left:66px;top:833.5px;font-size:16px;line-height:24px;color:#a3aed1;">内控-业务动态</div>
<div style="position:absolute;left:29.5px;top:833.5px;width:21px;height:21px"><svg width="21" height="21" viewBox="0 0 21 21" fill="none" stroke="#a3aed1" stroke-width="2" stroke-linecap="round" stroke-linejoin="round"><circle cx="10.5" cy="10.5" r="9.2"/><path d="M13.6 1.9 L8.3 11.2 M19.4 8.2 H8.8 M17.6 16.4 L12.3 7.2 M7.4 19.1 L12.7 9.8 M1.6 12.8 H12.2 M3.4 4.6 L8.7 13.8" stroke-width="1.8"/></svg></div>
<div class="t" style="left:66px;top:889.5px;font-size:16px;line-height:24px;color:#a3aed1;">内控-监控报告</div>
<div style="position:absolute;left:31.5px;top:889.5px;width:17px;height:21px"><svg width="17" height="21" viewBox="0 0 17 21" fill="none" stroke="#a3aed1" stroke-width="2" stroke-linecap="round" stroke-linejoin="round"><path d="M3.4 1.2 H10.2 L15.8 6.8 V17.6 A2.2 2.2 0 0 1 13.6 19.8 H3.4 A2.2 2.2 0 0 1 1.2 17.6 V3.4 A2.2 2.2 0 0 1 3.4 1.2 Z"/><path d="M10 1.6 V7 H15.4" stroke-width="1.6"/><path d="M5 12.6 H11"/></svg></div>
<div class="t" style="left:66px;top:945.5px;font-size:16px;line-height:24px;color:#a3aed1;">重点监控日志</div>
<div style="position:absolute;left:28px;top:943.5px;width:24px;height:21px"><svg width="24" height="21" viewBox="0 0 24 21" fill="none" stroke="#a3aed1" stroke-width="1.7" stroke-linecap="round" stroke-linejoin="round"><rect x="1.2" y="1.2" width="21.6" height="18.6" rx="2.6"/><path d="M7.6 1.4 V19.6"/></svg></div>
<div class="t" style="left:27px;top:997.5px;font-size:14px;line-height:20px;color:#5d6789;font-weight:700;letter-spacing:1px;">投后管理</div>
<svg style="position:absolute;left:203px;top:1001.5px" width="14" height="10" viewBox="0 0 14 10" fill="none" stroke="#6a7499" stroke-width="1.3" stroke-linecap="round" stroke-linejoin="round"><path d="M1.5 7.8 L7 2.6 L12.5 7.8"/></svg>
<div class="t" style="left:66px;top:1046.5px;font-size:16px;line-height:24px;color:#a3aed1;">已投企业管理</div>
<div style="position:absolute;left:30px;top:1046.5px;width:20px;height:21px"><svg width="20" height="21" viewBox="0 0 20 21" fill="none" stroke="#a3aed1" stroke-width="2" stroke-linecap="round" stroke-linejoin="round"><path d="M10 1.3 L18.6 5.6 V15.4 L10 19.7 L1.4 15.4 V5.6 Z"/><path d="M1.6 5.7 L10 10 L18.4 5.7 M10 10 V19.5 M5.6 3.5 L14.2 7.9"/></svg></div>
<div class="t" style="left:66px;top:1102.5px;font-size:16px;line-height:24px;color:#a3aed1;">已投企业-风险动态</div>
<div style="position:absolute;left:31px;top:1101.5px;width:18px;height:21px"><svg width="18" height="21" viewBox="0 0 18 21" fill="none" stroke="#a3aed1" stroke-width="2" stroke-linecap="round" stroke-linejoin="round"><path d="M1.2 1.2 H11.2 L16.8 6.8 V19.8 H1.2 Z"/><path d="M11 1.4 V7 H16.6" stroke-width="1.6"/><path d="M3 14.6 L6 10.6 L8.6 14.6 L10.6 12.2 L12.2 14 H15" stroke-width="1.7"/></svg></div>
<div class="t" style="left:66px;top:1158.5px;font-size:16px;line-height:24px;color:#a3aed1;">已投企业-业务动态</div>
<div style="position:absolute;left:29.5px;top:1158.5px;width:21px;height:21px"><svg width="21" height="21" viewBox="0 0 21 21" fill="none" stroke="#a3aed1" stroke-width="2" stroke-linecap="round" stroke-linejoin="round"><circle cx="10.5" cy="10.5" r="9.2"/><path d="M13.6 1.9 L8.3 11.2 M19.4 8.2 H8.8 M17.6 16.4 L12.3 7.2 M7.4 19.1 L12.7 9.8 M1.6 12.8 H12.2 M3.4 4.6 L8.7 13.8" stroke-width="1.8"/></svg></div>
<div class="t" style="left:66px;top:1214.5px;font-size:16px;line-height:24px;color:#a3aed1;">已投企业-监控报告</div>
<div style="position:absolute;left:31.5px;top:1214.5px;width:17px;height:21px"><svg width="17" height="21" viewBox="0 0 17 21" fill="none" stroke="#a3aed1" stroke-width="2" stroke-linecap="round" stroke-linejoin="round"><path d="M3.4 1.2 H10.2 L15.8 6.8 V17.6 A2.2 2.2 0 0 1 13.6 19.8 H3.4 A2.2 2.2 0 0 1 1.2 17.6 V3.4 A2.2 2.2 0 0 1 3.4 1.2 Z"/><path d="M10 1.6 V7 H15.4" stroke-width="1.6"/><path d="M5 12.6 H11"/></svg></div>
<div class="t" style="left:66px;top:1270.5px;font-size:16px;line-height:24px;color:#a3aed1;">已投企业-监控日志</div>
<div style="position:absolute;left:28px;top:1268.5px;width:24px;height:21px"><svg width="24" height="21" viewBox="0 0 24 21" fill="none" stroke="#a3aed1" stroke-width="1.7" stroke-linecap="round" stroke-linejoin="round"><rect x="1.2" y="1.2" width="21.6" height="18.6" rx="2.6"/><path d="M7.6 1.4 V19.6"/></svg></div>
</div>
<div style="position:absolute;left:2556px;top:0;width:4px;height:1279px;background:#f3f4f9"></div>
</body>
</html>
